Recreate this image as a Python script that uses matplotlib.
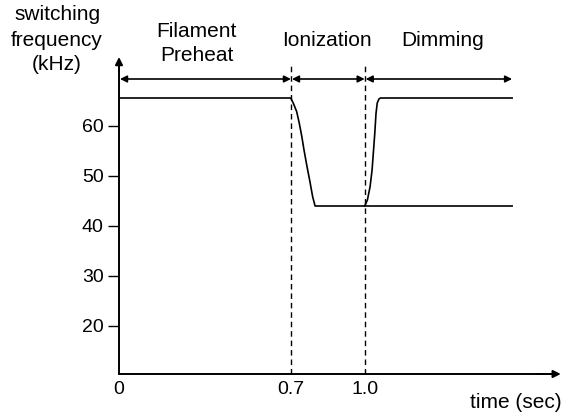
import matplotlib
matplotlib.use('Agg')
import matplotlib.pyplot as plt

plt.rcParams['font.family'] = ['Liberation Sans', 'DejaVu Sans']

# switching frequency profile (kHz) vs time (sec)
t_main = [0, 0.699, 0.710, 0.723, 0.734, 0.744, 0.753, 0.764, 0.777, 0.788, 0.798, 1.6]
f_main = [65.6, 65.6, 64.5, 62.9, 60.5, 57.9, 55.2, 52.2, 48.9, 45.9, 44.0, 44.0]

t_rise = [1.0, 1.011, 1.022, 1.030, 1.035, 1.041, 1.046, 1.051, 1.058, 1.064, 1.6]
f_rise = [44.0, 45.2, 47.9, 51.2, 54.5, 58.5, 62.5, 64.6, 65.4, 65.6, 65.6]

y_ticks = [20, 30, 40, 50, 60]
x_ticks = [0, 0.7, 1.0]
x_tick_labels = ['0', '0.7', '1.0']

phase_bounds = [0, 0.7, 1.0, 1.6]
phase_names = ['Filament\nPreheat', 'Ionization', 'Dimming']
phase_label_x = [0.317, 0.847, 1.319]
phase_label_y = [76.5, 77.2, 77.2]

y_base = 10.4
y_top = 73.8
x_end = 1.798

fig = plt.figure(figsize=(5.64, 4.12), dpi=100)
ax = fig.add_axes([0, 0, 1, 1])
ax.set_xlim(-119 / 245.7, (564 - 119) / 245.7)
ax.set_ylim(2.8, 85.2)

for side in ['top', 'right']:
    ax.spines[side].set_visible(False)
ax.spines['left'].set_position(('data', 0))
ax.spines['bottom'].set_position(('data', y_base))
ax.spines['left'].set_bounds(y_base, y_top - 1)
ax.spines['bottom'].set_bounds(0, x_end - 0.02)
ax.spines['left'].set_linewidth(1.4)
ax.spines['bottom'].set_linewidth(1.4)

ax.set_yticks(y_ticks)
ax.set_yticklabels([str(v) for v in y_ticks])
ax.set_xticks(x_ticks)
ax.set_xticklabels(x_tick_labels)
ax.tick_params(axis='y', direction='out', length=8, width=1, pad=3, labelsize=14)
ax.tick_params(axis='x', length=0, pad=5, labelsize=14)

# axis arrow heads
arrow_kw = dict(arrowstyle='-|>', color='k', lw=1.4, mutation_scale=11,
                shrinkA=0, shrinkB=0)
ax.annotate('', xy=(0, y_top), xytext=(0, y_top - 3), arrowprops=arrow_kw)
ax.annotate('', xy=(x_end, y_base), xytext=(x_end - 0.1, y_base), arrowprops=arrow_kw)

# frequency curves
ax.plot(t_main, f_main, color='k', lw=1.2)
ax.plot(t_rise, f_rise, color='k', lw=1.2)

# phase boundaries
for xb in phase_bounds[1:3]:
    ax.plot([xb, xb], [y_base, 72.2], color='k', lw=1, linestyle=(0, (4, 2.8)))

# phase arrows
for a, b in zip(phase_bounds[:-1], phase_bounds[1:]):
    ax.annotate('', xy=(b, 69.4), xytext=(a + 0.004, 69.4),
                arrowprops=dict(arrowstyle='<|-|>', color='k', lw=1.2,
                                mutation_scale=10, shrinkA=0, shrinkB=0))

for name, xl, yl in zip(phase_names, phase_label_x, phase_label_y):
    ax.text(xl, yl, name, ha='center', va='center', fontsize=15, linespacing=1.3)

ax.text(-0.252, 77.2, 'switching\nfrequency\n(kHz)', ha='center', va='center',
        fontsize=15, linespacing=1.4)
ax.text(1.803, 4.6, 'time (sec)', ha='right', va='center', fontsize=15)

fig.savefig('out.png', dpi=100)
